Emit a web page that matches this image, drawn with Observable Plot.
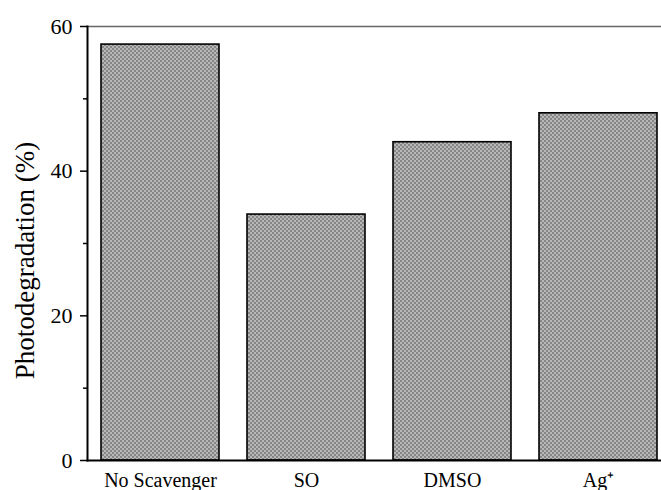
<!DOCTYPE html>
<html>
<head>
<meta charset="utf-8">
<script src="https://cdn.jsdelivr.net/npm/d3@7"></script>
<script src="https://cdn.jsdelivr.net/npm/@observablehq/plot@0.6"></script>
<style>
  html, body { margin: 0; padding: 0; background: white; overflow: hidden; }
  #chart svg { overflow: visible; }
</style>
</head>
<body>
<div id="chart"></div>
<script>
const categories = ["No Scavenger", "SO", "DMSO", "Ag\u207A"];
const values = [57.5, 34.0, 44.0, 48.0];
const majorTicks = [0, 20, 40, 60];
const minorTicks = [10, 30, 50];
const yLabel = "Photodegradation (%)";

const data = categories.map((c, i) => ({category: c, value: values[i]}));
const font = "'Liberation Serif', 'Times New Roman', serif";

const defs = () => {
  const ns = "http://www.w3.org/2000/svg";
  const d = document.createElementNS(ns, "defs");
  const p = document.createElementNS(ns, "pattern");
  p.setAttribute("id", "hatch");
  p.setAttribute("patternUnits", "userSpaceOnUse");
  p.setAttribute("width", "4");
  p.setAttribute("height", "4");
  const mk = (x, y, w, h, f) => {
    const r = document.createElementNS(ns, "rect");
    r.setAttribute("x", x); r.setAttribute("y", y);
    r.setAttribute("width", w); r.setAttribute("height", h);
    r.setAttribute("fill", f);
    p.appendChild(r);
  };
  mk(0, 0, 4, 4, "#b8b8b8");
  mk(0, 0, 2, 2, "#858585");
  mk(2, 2, 2, 2, "#858585");
  d.appendChild(p);
  return d;
};

const chart = Plot.plot({
  width: 661,
  height: 490,
  marginTop: 26,
  marginBottom: 30,
  marginLeft: 87,
  marginRight: 0,
  style: {fontFamily: font, background: "white", color: "black"},
  x: {domain: categories, range: [87, 672], paddingInner: 0.19, paddingOuter: 0.096, axis: null},
  y: {domain: [0, 60], axis: null},
  marks: [
    defs,
    Plot.barY(data, {x: "category", y: "value", fill: "url(#hatch)", stroke: "black", strokeWidth: 1.6}),
    Plot.frame({anchor: "top", stroke: "#666", strokeWidth: 1.5}),
    Plot.frame({anchor: "left", stroke: "black", strokeWidth: 2}),
    Plot.frame({anchor: "bottom", stroke: "black", strokeWidth: 2}),
    Plot.axisY({ticks: majorTicks, tickSize: 7, tickPadding: 8, fontSize: 22, label: null, strokeWidth: 1.5}),
    Plot.axisY({ticks: minorTicks, tickSize: 4, tickFormat: () => "", label: null, strokeWidth: 1.5}),
    Plot.axisX({tickSize: 0, tickPadding: 12, fontSize: 20, label: null}),
    Plot.text([yLabel], {frameAnchor: "left", textAnchor: "middle", dx: -62, dy: 17, rotate: -90, fontSize: 27, fill: "black"})
  ]
});
document.getElementById("chart").appendChild(chart);
</script>
</body>
</html>
